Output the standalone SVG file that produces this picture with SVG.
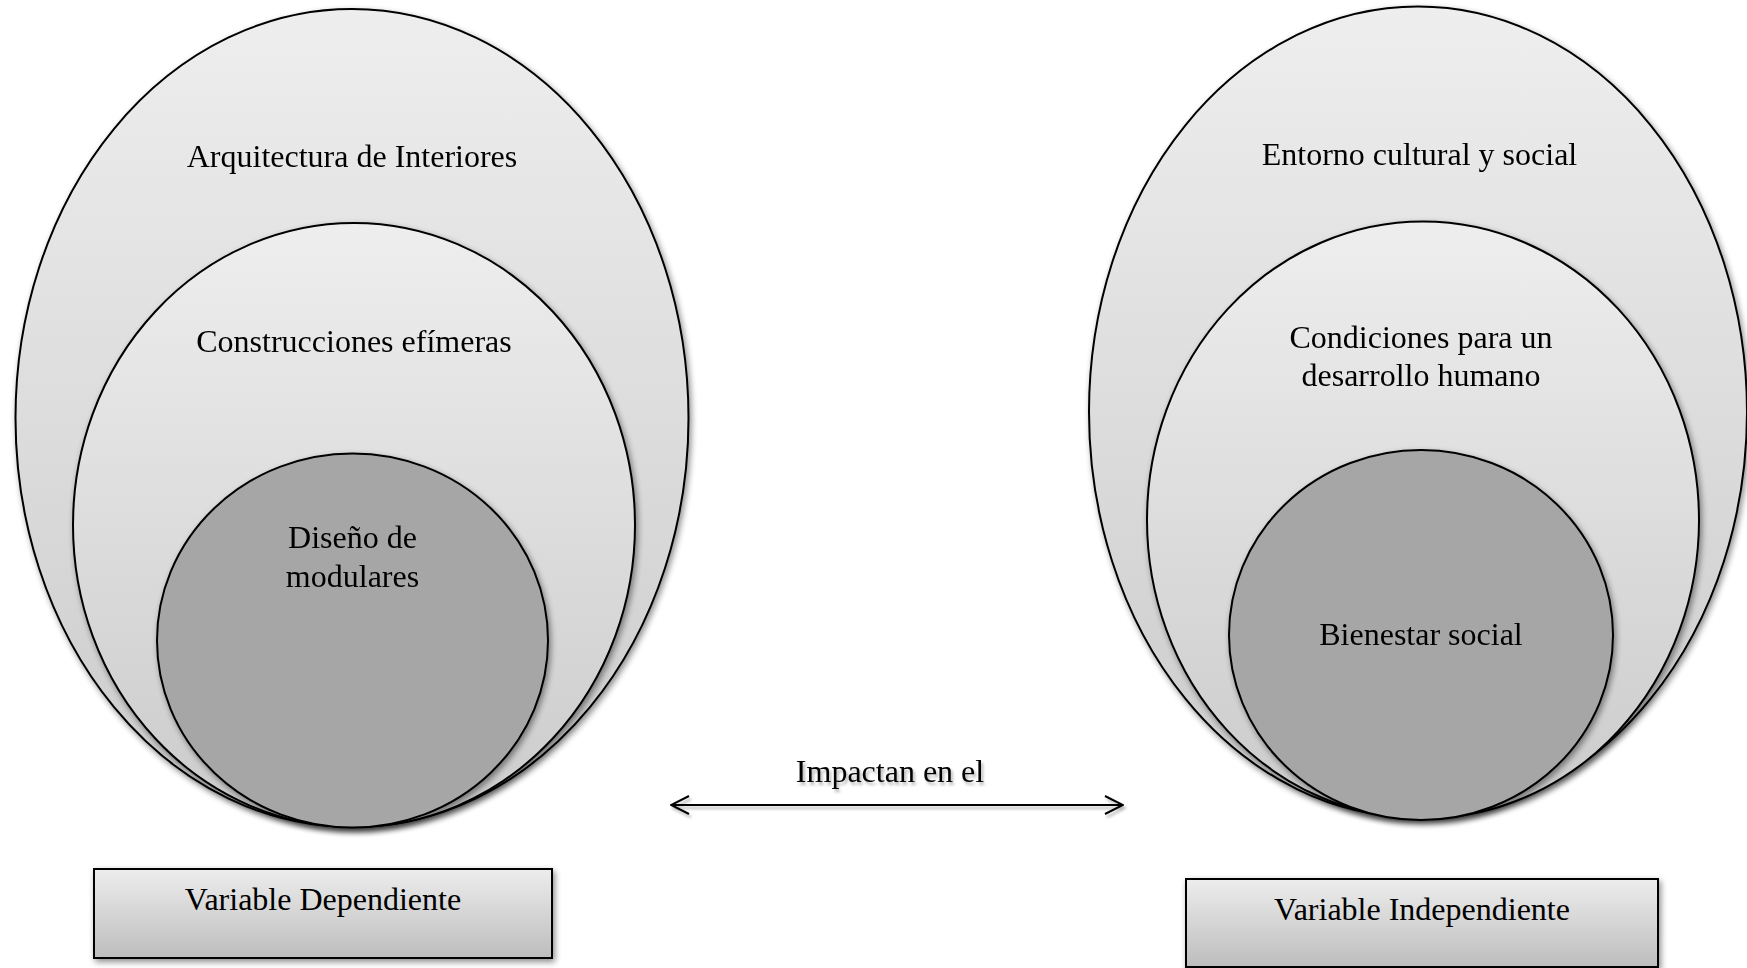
<svg xmlns="http://www.w3.org/2000/svg" width="1747" height="968" viewBox="0 0 1747 968">
  <defs>
    <linearGradient id="ovalFill" x1="0" y1="0" x2="0" y2="1">
      <stop offset="0" stop-color="#eeeeee"/>
      <stop offset="1" stop-color="#cbcbcb"/>
    </linearGradient>
    <linearGradient id="boxFill" x1="0" y1="0" x2="0" y2="1">
      <stop offset="0" stop-color="#ededed"/>
      <stop offset="1" stop-color="#bdbdbd"/>
    </linearGradient>
    <filter id="shadow" x="-10%" y="-10%" width="125%" height="130%">
      <feGaussianBlur in="SourceAlpha" stdDeviation="3"/>
      <feOffset dx="2" dy="3" result="b"/>
      <feComponentTransfer><feFuncA type="linear" slope="0.45"/></feComponentTransfer>
      <feMerge><feMergeNode/><feMergeNode in="SourceGraphic"/></feMerge>
    </filter>
    <filter id="textShadow" x="-10%" y="-30%" width="125%" height="170%">
      <feGaussianBlur in="SourceAlpha" stdDeviation="1.8"/>
      <feOffset dx="1.5" dy="2.5"/>
      <feComponentTransfer><feFuncA type="linear" slope="0.3"/></feComponentTransfer>
      <feMerge><feMergeNode/><feMergeNode in="SourceGraphic"/></feMerge>
    </filter>
    <marker id="chevron" viewBox="0 0 20 20" refX="19" refY="10" markerWidth="20" markerHeight="20" markerUnits="userSpaceOnUse" orient="auto-start-reverse">
      <path d="M1 1 L19 10 L1 19" fill="none" stroke="#000" stroke-width="2"/>
    </marker>
  </defs>
  <style>
    .oval { fill: url(#ovalFill); stroke: #000; stroke-width: 2; }
    .core { fill: #a6a6a6; stroke: #000; stroke-width: 2; }
    .box { fill: url(#boxFill); stroke: #000; stroke-width: 2; }
    .lbl { font-family: "Liberation Serif", "Times New Roman", serif; font-size: 32px; fill: #000; text-anchor: middle; }
  </style>
  <rect width="1747" height="968" fill="#ffffff"/>

  <!-- left set: dependent variable -->
  <g id="arquitectura" filter="url(#shadow)">
    <ellipse class="oval" cx="352" cy="418" rx="336.5" ry="409"/>
    <text class="lbl" x="352" y="167">Arquitectura de Interiores</text>
  </g>
  <g id="construcciones" filter="url(#shadow)">
    <ellipse class="oval" cx="354" cy="525" rx="281" ry="302"/>
    <text class="lbl" x="354" y="352">Construcciones efímeras</text>
  </g>
  <g id="diseno" filter="url(#shadow)">
    <ellipse class="core" cx="352.5" cy="640.5" rx="195.5" ry="187"/>
    <text class="lbl" x="352.5" y="548">Diseño de</text>
    <text class="lbl" x="352.5" y="587">modulares</text>
  </g>

  <!-- right set: independent variable -->
  <g id="entorno" filter="url(#shadow)">
    <ellipse class="oval" cx="1418" cy="412" rx="329" ry="405.5"/>
    <text class="lbl" x="1419.5" y="165">Entorno cultural y social</text>
  </g>
  <g id="condiciones" filter="url(#shadow)">
    <ellipse class="oval" cx="1423" cy="520" rx="276" ry="298.5"/>
    <text class="lbl" x="1421" y="348">Condiciones para un</text>
    <text class="lbl" x="1421" y="386">desarrollo humano</text>
  </g>
  <g id="bienestar" filter="url(#shadow)">
    <ellipse class="core" cx="1421" cy="635" rx="192" ry="185"/>
    <text class="lbl" x="1421" y="645">Bienestar social</text>
  </g>

  <!-- variable labels -->
  <g id="variable-dependiente">
    <rect class="box" x="94" y="869" width="458" height="89" filter="url(#shadow)"/>
    <text class="lbl" x="323" y="910">Variable Dependiente</text>
  </g>
  <g id="variable-independiente">
    <rect class="box" x="1186" y="879" width="472" height="88" filter="url(#shadow)"/>
    <text class="lbl" x="1422" y="920">Variable Independiente</text>
  </g>

  <!-- connectors -->
  <g id="connectors" filter="url(#textShadow)">
    <line x1="671" y1="805" x2="1123" y2="805" stroke="#000" stroke-width="2" marker-start="url(#chevron)" marker-end="url(#chevron)"/>
    <text class="lbl" x="890" y="782">Impactan en el</text>
  </g>
</svg>
